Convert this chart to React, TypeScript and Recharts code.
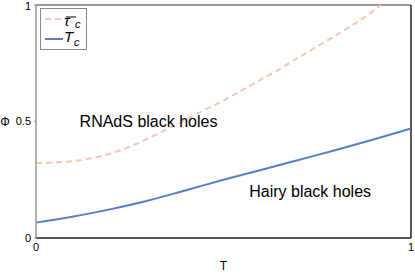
import {
  LineChart,
  Line,
  XAxis,
  YAxis,
  ReferenceLine,
  ReferenceDot,
} from 'recharts'

// dashed curve: tau-bar_c
const tauT = [0, 0.05, 0.1, 0.15, 0.2, 0.25, 0.3, 0.35, 0.4, 0.45, 0.5, 0.55, 0.6, 0.65, 0.7, 0.75, 0.8, 0.85, 0.9, 0.92]
const tauPhi = [0.322, 0.324, 0.33, 0.343, 0.363, 0.392, 0.428, 0.468, 0.508, 0.55, 0.59, 0.635, 0.68, 0.725, 0.775, 0.822, 0.87, 0.92, 0.975, 1.0]

// solid curve: T_c
const tcT = [0, 0.1, 0.2, 0.3, 0.4, 0.5, 0.6, 0.7, 0.8, 0.9, 1]
const tcPhi = [0.066, 0.092, 0.124, 0.161, 0.205, 0.25, 0.292, 0.335, 0.378, 0.423, 0.47]

const xTicks = [0, 1]
const yTicks = [0, 0.5, 1]

const regionLabels = [
  { T: 0.3, phi: 0.502, text: 'RNAdS black holes' },
  { T: 0.731, phi: 0.2, text: 'Hairy black holes' },
]

const DASH_COLOR = '#f8c6b4'
const SOLID_COLOR = '#5a7ec2'
const FONT = '"Liberation Sans", Arial, sans-serif'

const tauData = tauT.map((T, i) => ({ T, phi: tauPhi[i] }))
const tcData = tcT.map((T, i) => ({ T, phi: tcPhi[i] }))

function PhiLabel({ viewBox }: any) {
  const y = viewBox.y + viewBox.height / 2
  return (
    <text x={5} y={y} dy="0.35em" textAnchor="middle" fontSize={12} fill="#000" fontFamily={FONT}>
      Φ
    </text>
  )
}

// legend drawn as a small svg overlay so it doesn't change the plot margins
function LegendBox() {
  return (
    <svg width={47} height={42} style={{ position: 'absolute', left: 40, top: 8 }}>
      <rect x={0.5} y={0.5} width={46} height={41} fill="#fff" stroke="#888" />
      <line x1={5} y1={11} x2={23} y2={11} stroke={DASH_COLOR} strokeWidth={2} strokeDasharray="6 4" />
      <line x1={26} y1={9} x2={36} y2={9} stroke="#000" strokeWidth={1} />
      <text x={24} y={18} fontSize={15} fontStyle="italic" fontFamily={FONT} fill="#000">τ</text>
      <text x={35} y={20} fontSize={11} fontStyle="italic" fontFamily={FONT} fill="#000">c</text>
      <line x1={5} y1={31} x2={23} y2={31} stroke={SOLID_COLOR} strokeWidth={2} />
      <text x={24} y={34} fontSize={15} fontStyle="italic" fontFamily={FONT} fill="#000">T</text>
      <text x={34} y={38} fontSize={11} fontStyle="italic" fontFamily={FONT} fill="#000">c</text>
    </svg>
  )
}

export default function App() {
  return (
    <div style={{ position: 'absolute', left: 0, top: 0, width: 415, height: 273, fontFamily: FONT, background: '#fff' }}>
      <LineChart width={415} height={273} margin={{ top: 5, right: 4, left: 0, bottom: 0 }}>
        <XAxis
          type="number"
          dataKey="T"
          domain={[0, 1]}
          ticks={xTicks}
          height={35}
          tickSize={0}
          tickMargin={5}
          tickLine={false}
          axisLine={{ stroke: '#222', strokeWidth: 1.5 }}
          tick={{ fontSize: 11, fill: '#000', fontFamily: FONT }}
          label={{ value: 'T', position: 'insideBottom', offset: 3, fontSize: 12, fill: '#000', fontFamily: FONT }}
        />
        <YAxis
          type="number"
          domain={[0, 1]}
          ticks={yTicks}
          width={36}
          tickSize={2}
          tickMargin={3}
          tickLine={{ stroke: '#888' }}
          axisLine={{ stroke: '#999', strokeWidth: 1.5 }}
          tick={{ fontSize: 11, fill: '#000', fontFamily: FONT }}
          label={<PhiLabel />}
        />
        <ReferenceLine y={1} stroke="#999" strokeWidth={2} />
        <ReferenceLine x={1} stroke="#222" strokeWidth={1.5} />
        <Line
          data={tauData}
          dataKey="phi"
          type="monotone"
          stroke={DASH_COLOR}
          strokeWidth={2}
          strokeDasharray="6 4"
          dot={false}
          isAnimationActive={false}
        />
        <Line
          data={tcData}
          dataKey="phi"
          type="monotone"
          stroke={SOLID_COLOR}
          strokeWidth={2}
          dot={false}
          isAnimationActive={false}
        />
        {regionLabels.map((r) => (
          <ReferenceDot
            key={r.text}
            x={r.T}
            y={r.phi}
            r={0}
            stroke="none"
            label={{ value: r.text, position: 'center', fontSize: 16, fill: '#000', fontFamily: FONT }}
          />
        ))}
      </LineChart>
      <LegendBox />
    </div>
  )
}
